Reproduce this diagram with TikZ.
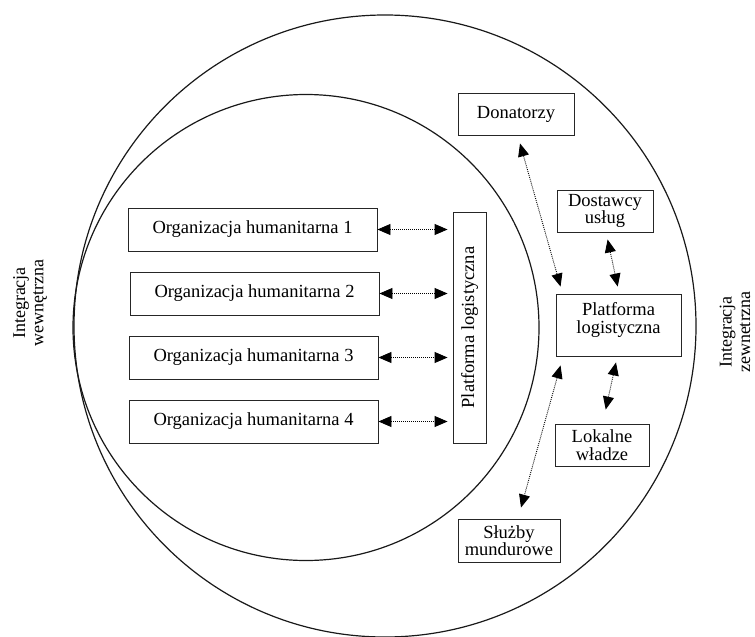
\documentclass[tikz,border=0pt]{standalone}
\usepackage{fontspec}
\setmainfont{Liberation Serif}
\usetikzlibrary{arrows.meta}
\begin{document}
\begin{tikzpicture}[x=1pt,y=-1pt,
  box/.style={draw=black!85,line width=0.9pt,inner sep=0pt,align=center,
    font=\fontsize{18.5}{17.5}\selectfont},
  ring/.style={draw=black!90,line width=1.2pt},
  lbl/.style={rotate=90,align=center,inner sep=0pt,font=\fontsize{18}{18.3}\selectfont},
  arr/.style={line width=0.9pt,dash pattern=on 0.9pt off 1.1pt,
    {Triangle[length=13pt,width=11pt]}-{Triangle[length=13pt,width=11pt]}}]
\useasboundingbox (0,0) rectangle (755,637);
\clip (0,0) rectangle (755,637);
\fill[white] (0,0) rectangle (755,637);

% rings
\draw[ring] (385,326) circle[radius=311pt];
\draw[ring] (306,327.5) circle[radius=233pt];

% side labels
\node[lbl] (lin) at (30,303) {Integracja\\wewnętrzna};
\node[lbl] (lout) at (735,332) {Integracja\\zewnetrzna};

% left boxes
\node[box,minimum width=249pt,minimum height=43pt] (o1) at (252.5,229.5) {Organizacja humanitarna 1};
\node[box,minimum width=249pt,minimum height=43pt] (o2) at (254.5,293.5) {Organizacja humanitarna 2};
\node[box,minimum width=249pt,minimum height=43pt] (o3) at (253.5,357.5) {Organizacja humanitarna 3};
\node[box,minimum width=249pt,minimum height=43pt] (o4) at (253.5,421.5) {Organizacja humanitarna 4};
\node[box,rotate=90,minimum width=231pt,minimum height=33pt] (plat) at (469.5,327.5) {Platforma logistyczna};

\foreach \o in {o1,o2,o3,o4}
  \draw[arr] (\o.east) -- ([xshift=-5pt]\o.east -| plat.north);

% right boxes
\node[box,minimum width=116pt,minimum height=42pt] (don) at (516,114) {Donatorzy};
\node[box,minimum width=96pt,minimum height=42pt] (dost) at (605,211) {Dostawcy\\usług};
\node[box,minimum width=125pt,minimum height=62pt] (pr) at (618.5,325) {Platforma\\logistyczna\\[-3pt]};
\node[box,minimum width=94pt,minimum height=42pt] (lok) at (602,445) {Lokalne\\władze};
\node[box,minimum width=102pt,minimum height=43pt] (sl) at (509,540.5) {Służby\\mundurowe};

\draw[arr] ([shift={(4pt,-8pt)}]don.south) -- ([shift={(5pt,7pt)}]pr.north west);
\draw[arr] ([shift={(2.6pt,-7pt)}]dost.south) -- ([shift={(-0.8pt,7pt)}]pr.north);
\draw[arr] ([shift={(-2.5pt,-6pt)}]pr.south) -- ([shift={(3.7pt,14pt)}]lok.north);
\draw[arr] ([shift={(5pt,-9pt)}]pr.south west) -- ([shift={(12pt,11pt)}]sl.north);
\end{tikzpicture}
\end{document}
